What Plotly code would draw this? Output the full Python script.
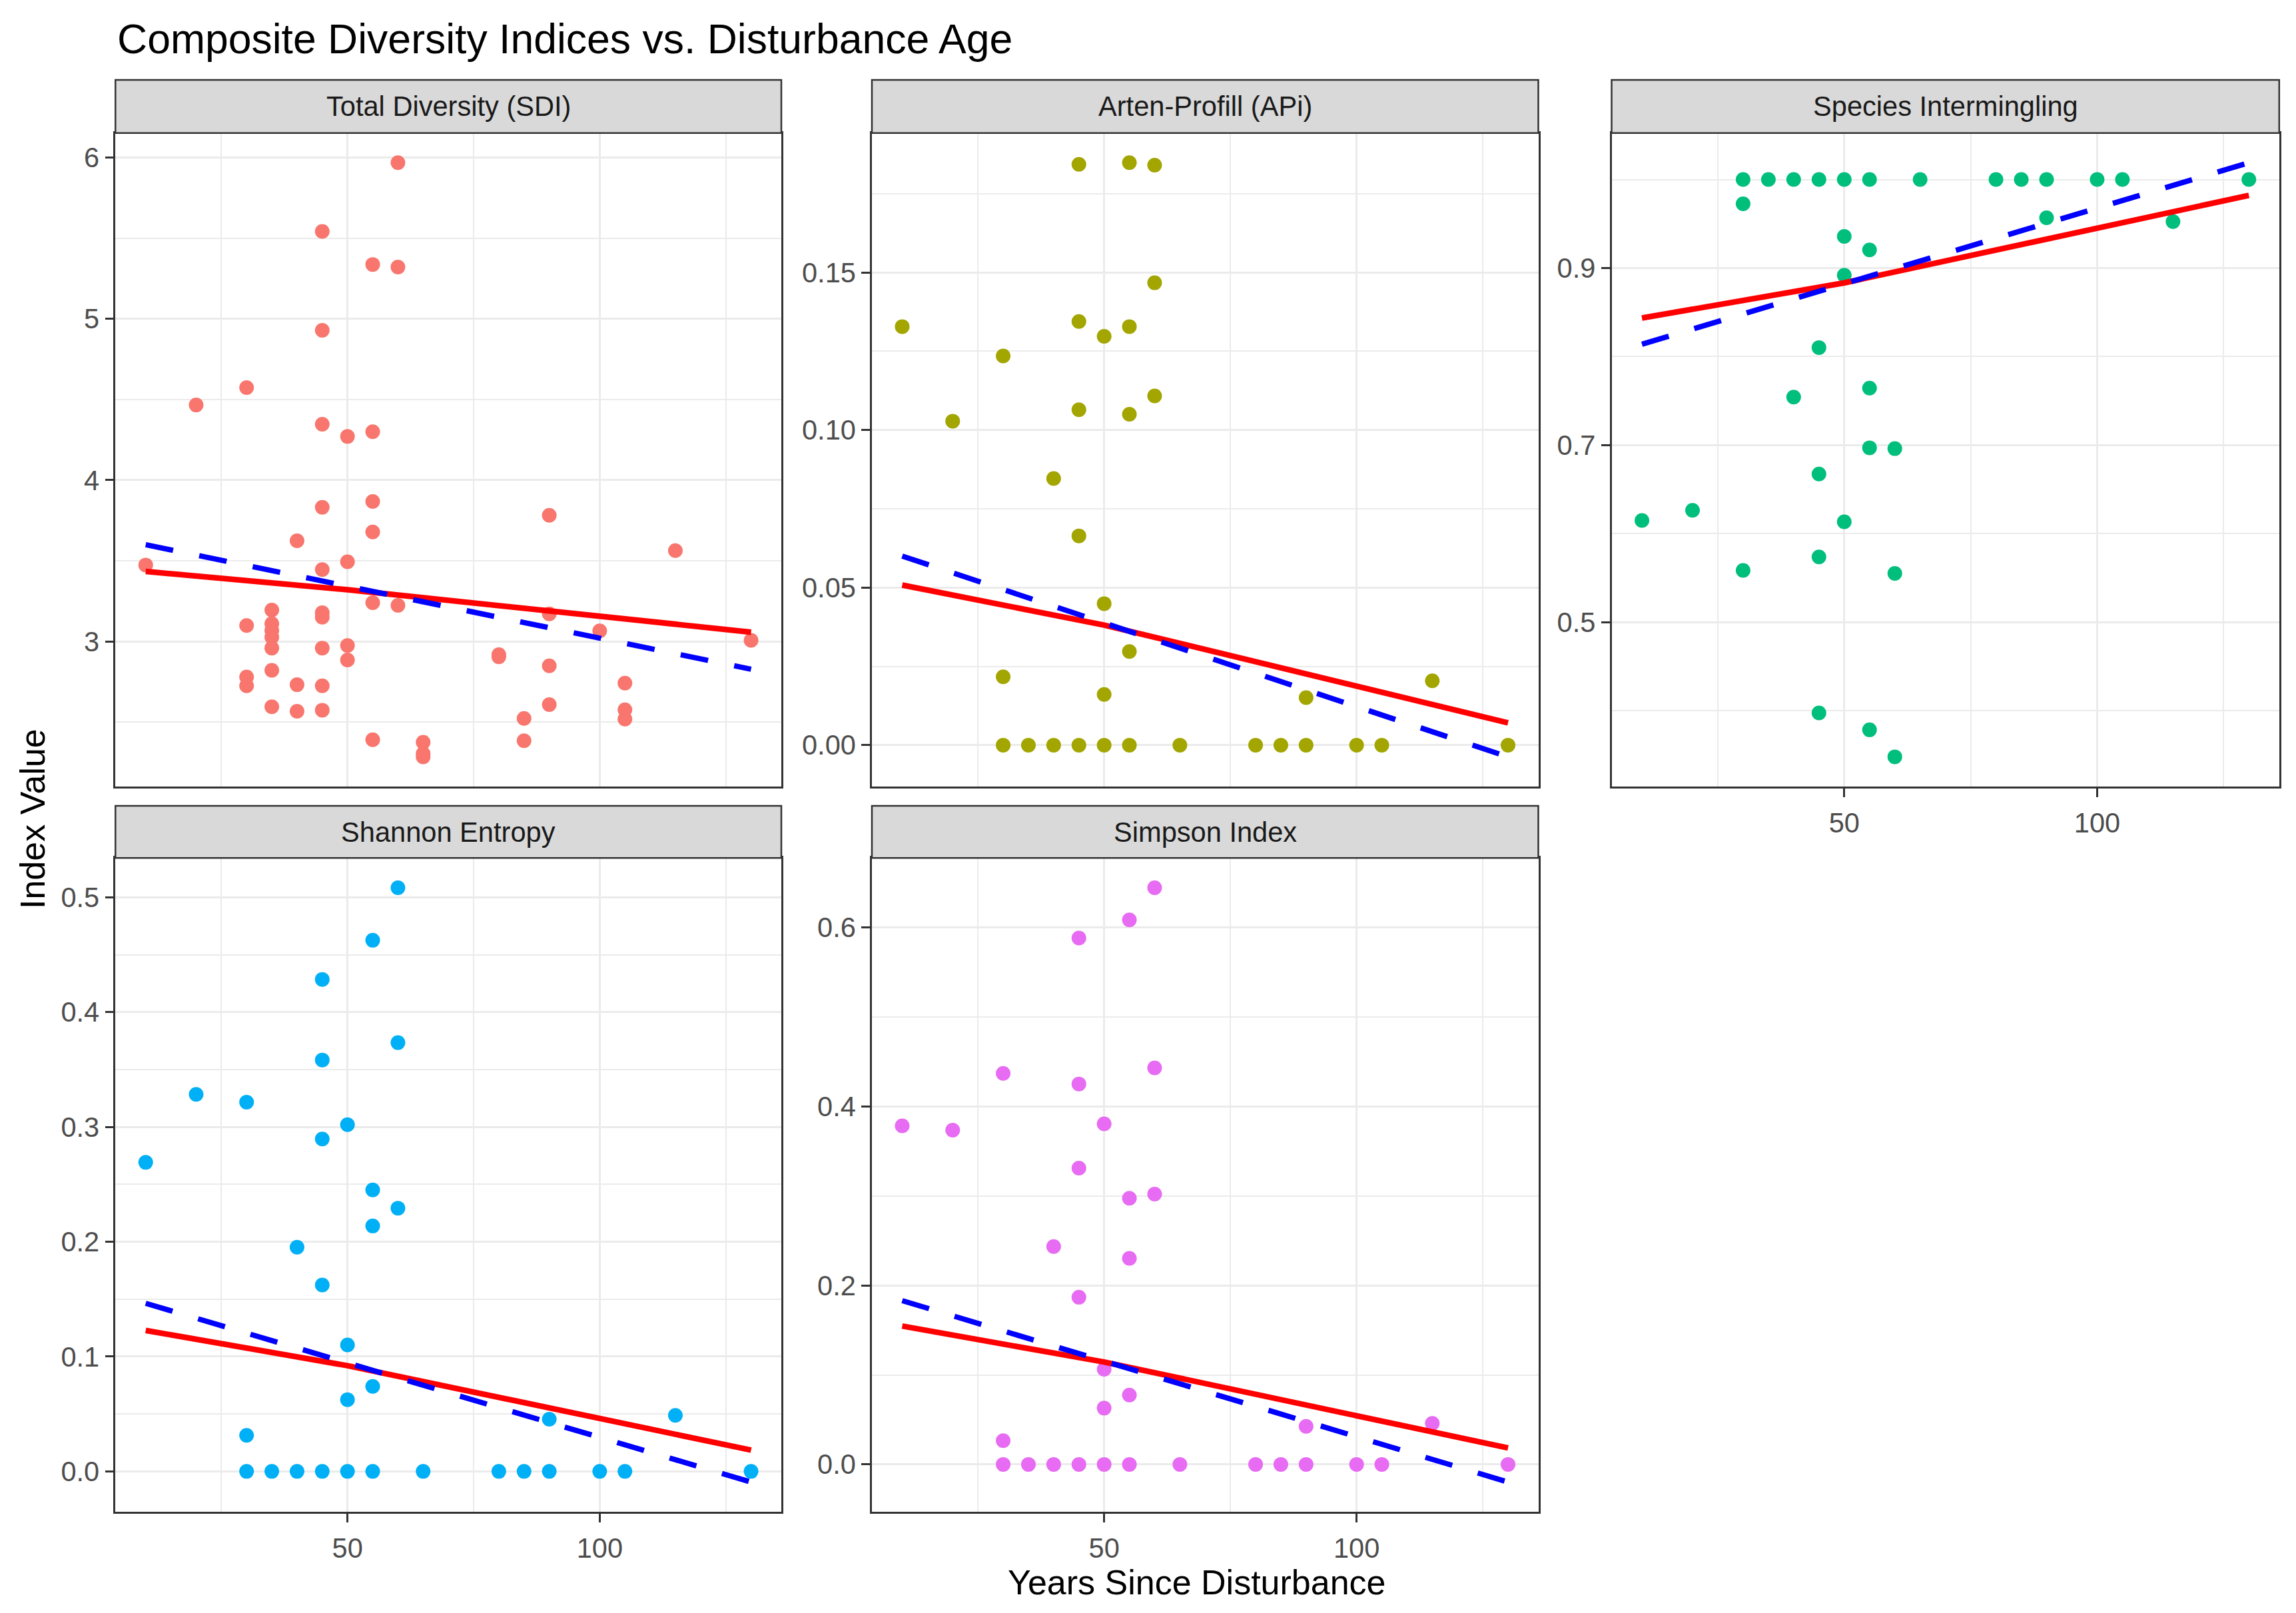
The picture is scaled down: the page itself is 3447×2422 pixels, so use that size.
import plotly.graph_objects as go

W, H = 3447, 2422

# ---------------- data ----------------
panel_titles = ["Total Diversity (SDI)", "Arten-Profill (APi)", "Species Intermingling",
                "Shannon Entropy", "Simpson Index"]
point_colors = ["#F8766D", "#A3A500", "#00BF7D", "#00B0F6", "#E76BF3"]

# Total Diversity (SDI) has its own set of observations
sdi_years = [10, 20,
             30, 30, 30, 30,
             35, 35, 35, 35, 35, 35, 35,
             40, 40, 40,
             45, 45, 45, 45, 45, 45, 45, 45, 45, 45,
             50, 50, 50, 50,
             55, 55, 55, 55, 55, 55,
             60, 60, 60,
             65, 65, 65,
             80, 80,
             85, 85,
             90, 90, 90, 90,
             100,
             105, 105, 105,
             115,
             130]
sdi_values = [3.474, 4.466,
              4.574, 3.099, 2.780, 2.725,
              3.195, 3.110, 3.068, 3.027, 2.959, 2.821, 2.595,
              3.624, 2.732, 2.567,
              5.542, 4.929, 4.347, 3.832, 3.446, 3.178, 3.151, 2.959, 2.725, 2.574,
              4.271, 3.494, 2.975, 2.885,
              5.337, 4.300, 3.868, 3.679, 3.240, 2.391,
              5.968, 5.321, 3.224,
              2.375, 2.305, 2.285,
              2.918, 2.905,
              2.523, 2.385,
              3.782, 3.171, 2.849, 2.609,
              3.066,
              2.742, 2.577, 2.519,
              3.563,
              3.007]

# the other four indices share these sites
site_years = [10, 20, 30, 30, 30, 35, 40, 40, 45, 45, 45, 45, 45,
              50, 50, 50, 50, 55, 55, 55, 55, 55, 60, 60, 60,
              65, 80, 85, 90, 90, 100, 105, 115, 130]
api_values = [0.1328, 0.1028, 0.1235, 0.0217, 0, 0, 0.0846, 0, 0.1843, 0.1344, 0.1064, 0.0664, 0,
              0.1297, 0.0449, 0.0161, 0, 0.1848, 0.1328, 0.1050, 0.0297, 0, 0.1840, 0.1467, 0.1108,
              0, 0, 0, 0.0151, 0, 0, 0, 0.0204, 0]
intermingling_values = [0.6149, 0.6264, 1.0, 0.9726, 0.5585, 1.0, 1.0, 0.7543, 1.0, 0.8102, 0.6674, 0.5738, 0.3976,
                        1.0, 0.9358, 0.8919, 0.6135, 1.0, 0.9205, 0.7644, 0.6970, 0.3785, 0.6961, 0.5552, 0.3480,
                        1.0, 1.0, 1.0, 1.0, 0.9568, 1.0, 1.0, 0.9525, 1.0]
shannon_values = [0.2692, 0.3284, 0.3217, 0.0314, 0, 0, 0.1953, 0, 0.4286, 0.3584, 0.2896, 0.1624, 0,
                  0.3021, 0.1102, 0.0625, 0, 0.4627, 0.2452, 0.2138, 0.0740, 0, 0.5085, 0.3735, 0.2293,
                  0, 0, 0, 0.0455, 0, 0, 0, 0.0488, 0]
simpson_values = [0.3783, 0.3735, 0.4369, 0.0265, 0, 0, 0.2435, 0, 0.5882, 0.4251, 0.3310, 0.1868, 0,
                  0.3806, 0.1064, 0.0629, 0, 0.6085, 0.2974, 0.2303, 0.0775, 0, 0.6444, 0.4430, 0.3021,
                  0, 0, 0, 0.0426, 0, 0, 0, 0.0459, 0]

# fitted curves
smooth_years = [10, 50, 130]
smooth_sdi = [3.434, 3.321, 3.058]
smooth_api = [0.0508, 0.0381, 0.0071]
smooth_intermingling = [0.8436, 0.8833, 0.9821]
smooth_shannon = [0.1228, 0.0921, 0.0185]
smooth_simpson = [0.1546, 0.1144, 0.0184]

linear_years = [10, 130]
linear_sdi = [3.600, 2.828]
linear_api = [0.0600, -0.0037]
linear_intermingling = [0.814, 1.019]
linear_shannon = [0.1464, -0.0093]
linear_simpson = [0.1830, -0.0197]

x_major = [50, 100]
x_minor = [25, 75, 125]
y_major = [[3, 4, 5, 6], [0, 0.05, 0.10, 0.15], [0.5, 0.7, 0.9],
           [0, 0.1, 0.2, 0.3, 0.4, 0.5], [0, 0.2, 0.4, 0.6]]
y_major_text = [["3", "4", "5", "6"], ["0.00", "0.05", "0.10", "0.15"], ["0.5", "0.7", "0.9"],
                ["0.0", "0.1", "0.2", "0.3", "0.4", "0.5"], ["0.0", "0.2", "0.4", "0.6"]]
y_minor = [[2.5, 3.5, 4.5, 5.5], [0.025, 0.075, 0.125, 0.175], [0.4, 0.6, 0.8, 1.0],
           [0.05, 0.15, 0.25, 0.35, 0.45], [0.1, 0.3, 0.5]]

# ---------------- layout geometry (pixels) ----------------
col_px = [(173.3, 1173.0), (1309.0, 2309.5), (2419.5, 3421.8)]
row_px = [(199.7, 1181.0), (1288.3, 2270.0)]
strip_px = [(120.0, 199.7), (1210.0, 1288.3)]
cells = [(0, 0), (0, 1), (0, 2), (1, 0), (1, 1)]

FONT = "Liberation Sans, Arial, sans-serif"
GRID = "#EBEBEB"
DARK = "#333333"


def px_x(p):
    return p / W


def px_y(p):
    return 1 - p / H


def expand(vals, frac=0.05):
    lo, hi = min(vals), max(vals)
    pad = (hi - lo) * frac
    return [lo - pad, hi + pad]


pts_x = [sdi_years, site_years, site_years, site_years, site_years]
pts_y = [sdi_values, api_values, intermingling_values, shannon_values, simpson_values]
sm_y = [smooth_sdi, smooth_api, smooth_intermingling, smooth_shannon, smooth_simpson]
ln_y = [linear_sdi, linear_api, linear_intermingling, linear_shannon, linear_simpson]

x_range = expand(sdi_years + site_years)

fig = go.Figure()
layout_axes = {}
shapes = []
annotations = []

for i, (r, c) in enumerate(cells):
    n = "" if i == 0 else str(i + 1)
    xa, ya = "x" + n, "y" + n
    fig.add_trace(go.Scatter(x=pts_x[i], y=pts_y[i], mode="markers", xaxis=xa, yaxis=ya,
                             marker=dict(color=point_colors[i], size=22, line=dict(width=0)),
                             showlegend=False, hoverinfo="skip"))
    fig.add_trace(go.Scatter(x=smooth_years, y=sm_y[i], mode="lines", xaxis=xa, yaxis=ya,
                             line=dict(color="#FF0000", width=8.5), showlegend=False, hoverinfo="skip"))
    fig.add_trace(go.Scatter(x=linear_years, y=ln_y[i], mode="lines", xaxis=xa, yaxis=ya,
                             line=dict(color="#0000FF", width=8, dash="42px,40px"),
                             showlegend=False, hoverinfo="skip"))

    x0, x1 = col_px[c]
    y0, y1 = row_px[r]
    show_x = (r == 1) or (c == 2)
    layout_axes["xaxis" + n] = dict(
        domain=[px_x(x0), px_x(x1)], anchor=ya, range=x_range,
        tickmode="array", tickvals=x_major, ticktext=[str(v) for v in x_major],
        showticklabels=show_x, ticks="outside" if show_x else "", ticklen=13, tickwidth=2.5,
        ticklabelstandoff=3,
        tickcolor=DARK, tickfont=dict(family=FONT, size=41.6, color="#4D4D4D"),
        showgrid=True, gridcolor=GRID, gridwidth=3.3, zeroline=False,
        minor=dict(tickvals=x_minor, showgrid=True, gridcolor=GRID, gridwidth=1.7, ticks=""),
        showline=True, linecolor=DARK, linewidth=2.5, mirror=True,
    )
    yr = expand(pts_y[i] + sm_y[i] + ln_y[i])
    layout_axes["yaxis" + n] = dict(
        domain=[px_y(y1), px_y(y0)], anchor=xa, range=yr,
        tickmode="array", tickvals=y_major[i], ticktext=y_major_text[i],
        ticks="outside", ticklen=13, tickwidth=2.5, tickcolor=DARK,
        tickfont=dict(family=FONT, size=41.6, color="#4D4D4D"),
        showgrid=True, gridcolor=GRID, gridwidth=3.3, zeroline=False,
        minor=dict(tickvals=y_minor[i], showgrid=True, gridcolor=GRID, gridwidth=1.7, ticks=""),
        showline=True, linecolor=DARK, linewidth=2.5, mirror=True,
    )
    s0, s1 = strip_px[r]
    shapes.append(dict(type="rect", xref="paper", yref="paper",
                       x0=px_x(x0), x1=px_x(x1), y0=px_y(s1), y1=px_y(s0),
                       fillcolor="#D9D9D9", line=dict(color=DARK, width=2.5), layer="above"))
    annotations.append(dict(text=panel_titles[i], xref="paper", yref="paper",
                            x=px_x((x0 + x1) / 2), y=px_y((s0 + s1) / 2),
                            xanchor="center", yanchor="middle", showarrow=False,
                            font=dict(family=FONT, size=41.6, color="#1A1A1A")))

annotations.append(dict(text="Composite Diversity Indices vs. Disturbance Age", xref="paper", yref="paper",
                        x=px_x(174), y=px_y(58), xanchor="left", yanchor="middle", showarrow=False,
                        font=dict(family=FONT, size=62.5, color="#000000")))
annotations.append(dict(text="Years Since Disturbance", xref="paper", yref="paper",
                        x=px_x(1797), y=px_y(2376), xanchor="center", yanchor="middle", showarrow=False,
                        font=dict(family=FONT, size=52, color="#000000")))
annotations.append(dict(text="Index Value", xref="paper", yref="paper", textangle=-90,
                        x=px_x(49), y=px_y(1230), xanchor="center", yanchor="middle", showarrow=False,
                        font=dict(family=FONT, size=52, color="#000000")))

fig.update_layout(width=W, height=H, autosize=False,
                  margin=dict(l=0, r=0, t=0, b=0, pad=0),
                  paper_bgcolor="white", plot_bgcolor="white",
                  shapes=shapes, annotations=annotations, **layout_axes)

fig.write_html("out.html")
